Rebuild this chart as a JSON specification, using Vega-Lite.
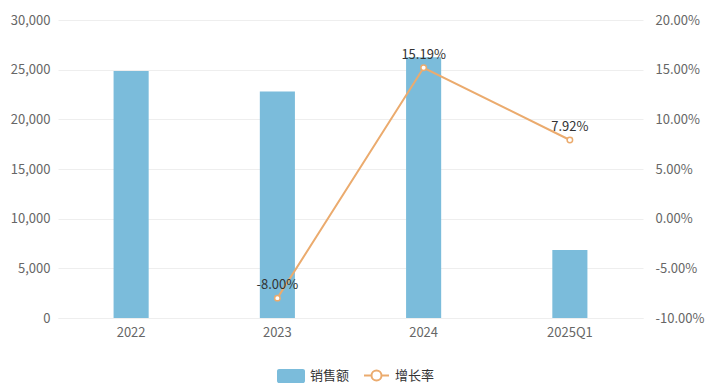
{
  "$schema": "https://vega.github.io/schema/vega-lite/v6.json",
  "width": 585,
  "height": 298,
  "autosize": {"type": "none"},
  "padding": {"left": 58, "top": 20, "right": 76, "bottom": 71},
  "background": "white",
  "config": {
    "font": "Noto Sans CJK SC",
    "view": {"stroke": null},
    "axis": {"labelColor": "#666666", "labelFontSize": 13, "gridColor": "#eeeeee", "domain": false, "ticks": false, "title": null},
    "legend": {"padding": 0, "labelFontSize": 13, "labelColor": "#333333", "title": null, "orient": "none", "direction": "horizontal"}
  },
  "data": {
    "values": [
      {"year": "2022", "sales": 24870, "growth": null},
      {"year": "2023", "sales": 22800, "growth": -0.08},
      {"year": "2024", "sales": 26250, "growth": 0.1519},
      {"year": "2025Q1", "sales": 6850, "growth": 0.0792}
    ]
  },
  "encoding": {
    "x": {
      "field": "year", "type": "ordinal", "sort": null,
      "scale": {"paddingInner": 0, "paddingOuter": 0},
      "axis": {"labelAngle": 0, "labelPadding": 8, "grid": false, "domain": true, "domainColor": "#eeeeee"}
    }
  },
  "layer": [
    {
      "mark": {"type": "bar", "width": {"band": 0.24}},
      "encoding": {
        "y": {
          "field": "sales", "type": "quantitative",
          "scale": {"domain": [0, 30000]},
          "axis": {"values": [0, 5000, 10000, 15000, 20000, 25000, 30000], "format": ",.0f", "labelPadding": 8, "grid": true}
        },
        "fill": {
          "datum": "销售额",
          "scale": {"range": ["#7BBCDB"]},
          "legend": {
            "legendX": 219, "legendY": 342,
            "symbolType": "M-0.85,-0.5 H0.85 A0.15,0.15 0 0 1 1,-0.35 V0.35 A0.15,0.15 0 0 1 0.85,0.5 H-0.85 A0.15,0.15 0 0 1 -1,0.35 V-0.35 A0.15,0.15 0 0 1 -0.85,-0.5 Z",
            "symbolSize": 784, "symbolStrokeWidth": 0, "symbolOpacity": 1, "labelOffset": 5
          }
        }
      }
    },
    {
      "transform": [{"filter": "datum.growth != null"}],
      "encoding": {
        "y": {
          "field": "growth", "type": "quantitative",
          "scale": {"domain": [-0.1, 0.2]},
          "axis": {"orient": "right", "labelExpr": "replace(format(datum.value, '.2%'), '\u2212', '-')", "values": [-0.1, -0.05, 0, 0.05, 0.1, 0.15, 0.2], "labelPadding": 12, "grid": false}
        }
      },
      "layer": [
        {
          "mark": {"type": "line", "strokeWidth": 2},
          "encoding": {
            "stroke": {
              "datum": "增长率",
              "scale": {"range": ["#EBAB6E"]},
              "legend": {
                "legendX": 305, "legendY": 342,
                "symbolType": "M-1,0 H-0.4 M0.4,0 H1 M-0.4,0 A0.4,0.4 0 1 0 0.4,0 A0.4,0.4 0 1 0 -0.4,0",
                "symbolSize": 625, "symbolStrokeWidth": 2, "symbolFillColor": "white", "labelOffset": 5
              }
            }
          }
        },
        {
          "mark": {"type": "point", "filled": true, "fill": "white", "stroke": "#EBAB6E", "strokeWidth": 1.5, "size": 30, "opacity": 1}
        },
        {
          "mark": {"type": "text", "baseline": "bottom", "dy": -6, "fontSize": 13, "color": "#333333", "text": {"expr": "replace(format(datum.growth, '.2%'), '\u2212', '-')"}}
        }
      ]
    }
  ],
  "resolve": {"scale": {"y": "independent"}}
}
